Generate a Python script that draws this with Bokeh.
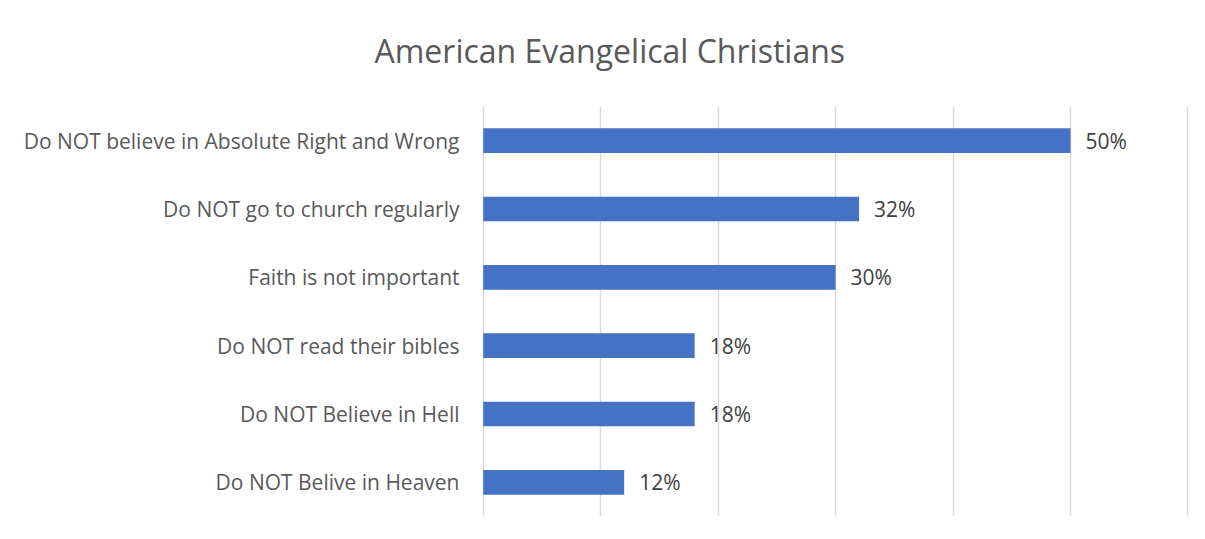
from bokeh.plotting import figure
from bokeh.models import ColumnDataSource, FactorRange, Range1d, FixedTicker, Title
from bokeh.core.properties import value
from bokeh.embed import file_html
from bokeh.resources import INLINE

title_text = "American Evangelical Christians"
categories = [
    "Do NOT believe in Absolute Right and Wrong",
    "Do NOT go to church regularly",
    "Faith is not important",
    "Do NOT read their bibles",
    "Do NOT Believe in Hell",
    "Do NOT Belive in Heaven",
]
percent_values = [50, 32, 30, 18, 18, 12]
value_labels = ["50%", "32%", "30%", "18%", "18%", "12%"]
grid_ticks = [0, 10, 20, 30, 40, 50, 60]

FONT = "Open Sans"

src = ColumnDataSource(dict(cat=categories, val=percent_values, lab=value_labels))

p = figure(
    width=1196, height=530,
    y_range=FactorRange(factors=list(reversed(categories))),
    x_range=Range1d(-0.15, 60.05),
    output_backend="svg", toolbar_location=None,
    x_axis_location=None,
    min_border_left=474, min_border_right=15, min_border_top=99, min_border_bottom=21,
)
p.styles = {"margin-left": "7px", "margin-top": "7px"}
p.outline_line_color = None
p.background_fill_color = "white"
p.border_fill_color = "white"

p.hbar(y="cat", right="val", left=0, height=0.36, source=src,
       fill_color="#4472C4", line_color=None)

p.text(x="val", y="cat", text="lab", source=src, x_offset=15,
       text_baseline="middle", text_align="left",
       text_font=value(FONT), text_font_size="21px", text_color="#404040")

p.xgrid.ticker = FixedTicker(ticks=grid_ticks)
p.xgrid.grid_line_color = "#d9d9d9"
p.xgrid.grid_line_width = 1.5
p.ygrid.grid_line_color = None

ax = p.yaxis[0]
ax.axis_line_color = None
ax.major_tick_line_color = None
ax.minor_tick_line_color = None
ax.major_tick_out = 0
ax.major_tick_in = 0
ax.major_label_standoff = 22
ax.major_label_text_font = FONT
ax.major_label_text_font_size = "21px"
ax.major_label_text_color = "#595959"

# spacer between the title and the plot area (closest to the frame)
p.add_layout(Title(text=" ", text_font=FONT, text_font_size="2px",
                   text_color="white", standoff=25), "above")
# main title (stacked above the spacer)
p.add_layout(Title(text=title_text, align="left", offset=-107,
                   text_font=FONT, text_font_size="32px", text_font_style="normal",
                   text_color="#595959", standoff=10), "above")

open("out.html", "w").write(file_html(p, INLINE))
